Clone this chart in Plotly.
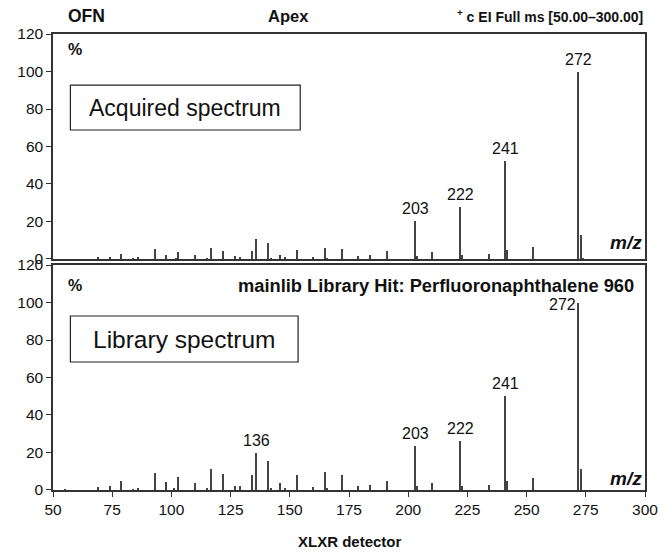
import plotly.graph_objects as go
from plotly.subplots import make_subplots

# Acquired spectrum (top panel)
acq_mz = [69, 74, 79, 84, 86, 93, 98, 102, 103, 110, 115, 117, 122, 127, 129, 134, 136, 141, 142,
          146, 148, 153, 160, 165, 166, 172, 179, 184, 191, 203, 204, 210, 222, 223, 234, 241, 242,
          253, 272, 273, 274]
acq_int = [1.0, 0.8, 2.6, 0.4, 0.8, 5.4, 2.2, 0.5, 3.5, 2.0, 0.5, 6.0, 4.5, 1.7, 1.2, 4.3, 10.5, 8.6, 0.4,
           2.2, 0.8, 4.8, 1.2, 5.9, 0.4, 5.2, 1.4, 2.0, 4.0, 20.0, 1.4, 3.6, 27.8, 2.1, 2.7, 52.5, 5.0,
           6.6, 100.0, 13.0, 0.5]
acq_labels = [203, 222, 241, 272]

# Library spectrum (bottom panel)
lib_mz = [55, 69, 74, 79, 84, 86, 93, 98, 101, 103, 110, 115, 117, 122, 127, 129, 134, 136, 141, 142,
          146, 148, 153, 160, 165, 166, 172, 179, 184, 191, 203, 204, 210, 222, 223, 234, 241, 242,
          253, 272, 273]
lib_int = [0.5, 1.8, 1.9, 4.6, 0.5, 1.2, 9.2, 4.4, 1.0, 6.7, 3.9, 0.7, 11.3, 8.5, 2.3, 2.3, 7.8, 19.6, 15.6, 0.6,
           3.9, 1.0, 8.1, 1.8, 9.6, 0.6, 7.8, 2.1, 2.8, 4.6, 23.5, 2.0, 3.7, 26.3, 2.3, 2.5, 50.0, 5.0,
           6.5, 100.0, 11.3]
lib_labels = [136, 203, 222, 241]

x_ticks = [50, 75, 100, 125, 150, 175, 200, 225, 250, 275, 300]
y_ticks = [0, 20, 40, 60, 80, 100, 120]

FONT = "Liberation Sans"
BAR = "#444444"
AX = "#333333"
TXT = "#111111"

fig = make_subplots(rows=2, cols=1, shared_xaxes=False, vertical_spacing=0.0132)

fig.add_trace(go.Bar(x=acq_mz, y=acq_int, width=0.6, marker=dict(color=BAR, line=dict(width=0)),
                     showlegend=False), row=1, col=1)
fig.add_trace(go.Bar(x=lib_mz, y=lib_int, width=0.6, marker=dict(color=BAR, line=dict(width=0)),
                     showlegend=False), row=2, col=1)

axis_common = dict(range=[50, 300], showgrid=False, zeroline=False, showline=True, linecolor=AX,
                   linewidth=1.5, mirror=True)
fig.update_xaxes(**axis_common, showticklabels=False, ticks="", row=1, col=1)
fig.update_xaxes(**axis_common, tickvals=x_ticks, ticks="outside", ticklen=5, tickwidth=1.2,
                 tickcolor=AX, tickfont=dict(family=FONT, size=15.5, color=TXT), row=2, col=1)
yax = dict(range=[0, 120], tickvals=y_ticks, ticks="outside", ticklen=5, tickwidth=1.2, tickcolor=AX,
           showgrid=False, zeroline=False, showline=True, linecolor=AX, linewidth=1.5, mirror=True,
           tickfont=dict(family=FONT, size=15.5, color=TXT))
fig.update_yaxes(**yax, row=1, col=1)
fig.update_yaxes(**yax, row=2, col=1)

pk = dict(family=FONT, size=16, color=TXT)
ann = []
for m in acq_labels:
    ann.append(dict(x=m, y=acq_int[acq_mz.index(m)], xref="x", yref="y", text=str(m), showarrow=False,
                    xanchor="center", yanchor="bottom", yshift=2, font=pk))
for m in lib_labels:
    ann.append(dict(x=m, y=lib_int[lib_mz.index(m)], xref="x2", yref="y2", text=str(m), showarrow=False,
                    xanchor="center", yanchor="bottom", yshift=2, font=pk))
ann.append(dict(x=272, y=100, xref="x2", yref="y2", text="272", showarrow=False, xanchor="right",
                xshift=-1, yanchor="middle", yshift=-2, font=pk))


def pa(x, y, text, size=15, xanchor="center", yanchor="middle"):
    return dict(x=x, y=y, xref="paper", yref="paper", text=text, showarrow=False, xanchor=xanchor,
                yanchor=yanchor, font=dict(family=FONT, size=size, color=TXT))


ann += [
    pa(0.022, 1.040, "<b>OFN</b>", size=17.5, xanchor="left"),
    pa(0.397, 1.040, "<b>Apex</b>", size=16.5),
    pa(1.0, 1.040, "<b><sup>+</sup> c EI Full ms [50.00–300.00]</b>", size=14, xanchor="right"),
    pa(0.022, 0.965, "<b>%</b>", size=16, xanchor="left"),
    pa(0.022, 0.449, "<b>%</b>", size=16, xanchor="left"),
    pa(0.985, 0.449, "<b>mainlib Library Hit: Perfluoronaphthalene 960</b>", size=18.3, xanchor="right"),
    pa(0.968, 0.542, "<b><i>m/z</i></b>", size=19),
    pa(0.968, 0.026, "<b><i>m/z</i></b>", size=19),
    pa(0.502, -0.112, "<b>XLXR detector</b>", size=15),
    pa(0.2235, 0.8387, "Acquired spectrum", size=23),
    pa(0.2217, 0.3311, "Library spectrum", size=24.5),
]

shapes = [
    dict(type="rect", xref="paper", yref="paper", x0=0.0294, x1=0.4176, y0=0.7895, y1=0.888,
         line=dict(color="#222", width=1.2), fillcolor="white", layer="below"),
    dict(type="rect", xref="paper", yref="paper", x0=0.0294, x1=0.414, y0=0.2807, y1=0.3816,
         line=dict(color="#222", width=1.2), fillcolor="white", layer="below"),
]

fig.update_layout(width=671, height=556, margin=dict(l=53, r=26, t=34, b=66),
                  paper_bgcolor="white", plot_bgcolor="white", annotations=ann, shapes=shapes,
                  bargap=0, font=dict(family=FONT))

fig.write_html("out.html", config={"displayModeBar": False},
               post_script="document.body.style.margin='0';")
